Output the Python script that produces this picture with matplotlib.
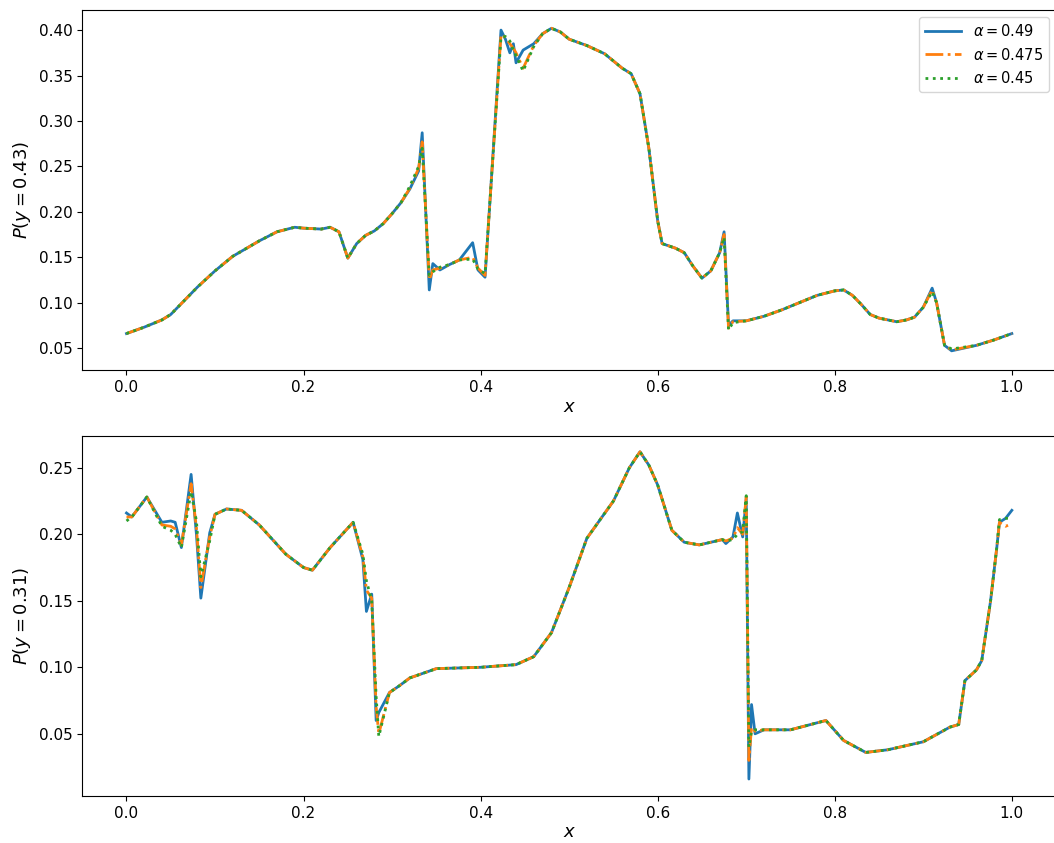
import numpy as np
import matplotlib.pyplot as plt

plt.switch_backend('agg')

# pressure cut at y = 0.43
x_top = [0.0, 0.02, 0.04, 0.05, 0.06, 0.08, 0.10, 0.12, 0.15, 0.17, 0.19, 0.20, 0.22, 0.23,
         0.24, 0.25, 0.26, 0.27, 0.28, 0.29, 0.30, 0.31, 0.32, 0.33, 0.334, 0.342, 0.346,
         0.354, 0.365, 0.376, 0.391, 0.397, 0.405, 0.423, 0.428, 0.433, 0.437, 0.44, 0.448,
         0.46, 0.47, 0.48, 0.49, 0.50, 0.52, 0.54, 0.56, 0.57, 0.58, 0.59, 0.60, 0.605,
         0.62, 0.63, 0.64, 0.65, 0.66, 0.67, 0.675, 0.68, 0.685, 0.70, 0.72, 0.74, 0.76,
         0.78, 0.80, 0.81, 0.82, 0.83, 0.84, 0.85, 0.87, 0.881, 0.89, 0.90, 0.91, 0.915,
         0.924, 0.932, 0.96, 0.98, 1.0]
p_top_049 = [0.066, 0.073, 0.081, 0.087, 0.097, 0.117, 0.135, 0.151, 0.168, 0.178, 0.183,
             0.182, 0.181, 0.183, 0.178, 0.149, 0.165, 0.174, 0.179, 0.187, 0.198, 0.210,
             0.225, 0.245, 0.287, 0.114, 0.143, 0.136, 0.142, 0.147, 0.166, 0.136, 0.128,
             0.400, 0.390, 0.375, 0.385, 0.364, 0.378, 0.385, 0.396, 0.402, 0.398, 0.390,
             0.383, 0.374, 0.358, 0.352, 0.330, 0.270, 0.190, 0.165, 0.160, 0.155, 0.140,
             0.127, 0.135, 0.155, 0.178, 0.075, 0.080, 0.080, 0.085, 0.092, 0.100, 0.108,
             0.113, 0.114, 0.108, 0.098, 0.087, 0.083, 0.079, 0.081, 0.084, 0.095, 0.116,
             0.100, 0.053, 0.047, 0.053, 0.059, 0.066]
p_top_0475 = [0.066, 0.073, 0.081, 0.087, 0.097, 0.117, 0.135, 0.151, 0.168, 0.178, 0.183,
              0.182, 0.181, 0.183, 0.178, 0.149, 0.165, 0.174, 0.179, 0.187, 0.198, 0.210,
              0.226, 0.248, 0.277, 0.125, 0.136, 0.138, 0.142, 0.147, 0.150, 0.138, 0.130,
              0.395, 0.392, 0.385, 0.380, 0.375, 0.358, 0.383, 0.396, 0.402, 0.398, 0.390,
              0.383, 0.374, 0.358, 0.352, 0.330, 0.270, 0.190, 0.165, 0.160, 0.155, 0.140,
              0.127, 0.135, 0.155, 0.175, 0.072, 0.079, 0.080, 0.085, 0.092, 0.100, 0.108,
              0.113, 0.114, 0.108, 0.098, 0.087, 0.083, 0.079, 0.081, 0.084, 0.095, 0.114,
              0.100, 0.053, 0.048, 0.053, 0.059, 0.066]
p_top_045 = [0.066, 0.073, 0.081, 0.087, 0.097, 0.117, 0.135, 0.151, 0.168, 0.178, 0.183,
             0.182, 0.181, 0.183, 0.178, 0.149, 0.165, 0.174, 0.179, 0.187, 0.198, 0.210,
             0.228, 0.250, 0.270, 0.130, 0.134, 0.139, 0.142, 0.147, 0.148, 0.137, 0.132,
             0.392, 0.393, 0.388, 0.378, 0.372, 0.355, 0.382, 0.396, 0.402, 0.398, 0.390,
             0.383, 0.374, 0.358, 0.352, 0.330, 0.270, 0.190, 0.165, 0.160, 0.155, 0.140,
             0.127, 0.135, 0.155, 0.172, 0.070, 0.078, 0.080, 0.085, 0.092, 0.100, 0.108,
             0.113, 0.114, 0.108, 0.098, 0.087, 0.083, 0.079, 0.081, 0.084, 0.095, 0.112,
             0.100, 0.053, 0.049, 0.053, 0.059, 0.066]

# pressure cut at y = 0.31
x_bot = [0.0, 0.006, 0.023, 0.04, 0.05, 0.055, 0.062, 0.073, 0.079, 0.084, 0.094, 0.10,
         0.113, 0.13, 0.15, 0.18, 0.20, 0.21, 0.23, 0.256, 0.267, 0.271, 0.277, 0.282,
         0.285, 0.297, 0.308, 0.32, 0.35, 0.40, 0.44, 0.46, 0.48, 0.50, 0.52, 0.55, 0.568,
         0.58, 0.59, 0.60, 0.616, 0.63, 0.647, 0.673, 0.677, 0.685, 0.69, 0.696, 0.700,
         0.703, 0.706, 0.71, 0.72, 0.75, 0.79, 0.81, 0.835, 0.86, 0.90, 0.93, 0.94, 0.947,
         0.96, 0.966, 0.976, 0.983, 0.986, 0.993, 1.0]
p_bot_049 = [0.216, 0.213, 0.228, 0.209, 0.210, 0.209, 0.190, 0.245, 0.200, 0.152, 0.201,
             0.215, 0.219, 0.218, 0.207, 0.185, 0.175, 0.173, 0.190, 0.209, 0.181, 0.142,
             0.155, 0.060, 0.066, 0.081, 0.086, 0.092, 0.099, 0.100, 0.102, 0.108, 0.126,
             0.160, 0.197, 0.225, 0.250, 0.262, 0.252, 0.237, 0.203, 0.194, 0.192, 0.196,
             0.193, 0.198, 0.216, 0.198, 0.227, 0.016, 0.072, 0.050, 0.053, 0.053, 0.060,
             0.045, 0.036, 0.038, 0.044, 0.055, 0.057, 0.090, 0.098, 0.105, 0.150, 0.190,
             0.209, 0.212, 0.218]
p_bot_0475 = [0.213, 0.213, 0.228, 0.207, 0.206, 0.204, 0.192, 0.238, 0.205, 0.160, 0.198,
              0.215, 0.219, 0.218, 0.207, 0.185, 0.175, 0.173, 0.190, 0.209, 0.183, 0.158,
              0.152, 0.070, 0.050, 0.081, 0.086, 0.092, 0.099, 0.100, 0.102, 0.108, 0.126,
              0.160, 0.197, 0.225, 0.250, 0.262, 0.252, 0.237, 0.203, 0.194, 0.192, 0.196,
              0.195, 0.197, 0.205, 0.200, 0.228, 0.030, 0.055, 0.052, 0.053, 0.053, 0.060,
              0.045, 0.036, 0.038, 0.044, 0.055, 0.057, 0.090, 0.098, 0.105, 0.150, 0.190,
              0.209, 0.206, 0.208]
p_bot_045 = [0.210, 0.213, 0.228, 0.206, 0.203, 0.200, 0.190, 0.232, 0.210, 0.168, 0.195,
             0.215, 0.219, 0.218, 0.207, 0.185, 0.175, 0.173, 0.190, 0.209, 0.185, 0.165,
             0.150, 0.078, 0.048, 0.081, 0.086, 0.092, 0.099, 0.100, 0.102, 0.108, 0.126,
             0.160, 0.197, 0.225, 0.250, 0.262, 0.252, 0.237, 0.203, 0.194, 0.192, 0.196,
             0.195, 0.196, 0.200, 0.202, 0.229, 0.040, 0.052, 0.053, 0.053, 0.053, 0.060,
             0.045, 0.036, 0.038, 0.044, 0.055, 0.057, 0.090, 0.098, 0.105, 0.150, 0.190,
             0.211, 0.212, 0.212]

alphas = ['0.49', '0.475', '0.45']
styles = ['-', '-.', ':']
colors = ['#1f77b4', '#ff7f0e', '#2ca02c']


def draw(ax, x, series, ylabel):
    for y, a, ls, c in zip(series, alphas, styles, colors):
        ax.plot(x, y, ls, color=c, linewidth=2, label=rf'$\alpha = {a}$')
    ax.set_xlim(-0.05, 1.05)
    ax.set_xticks([0.0, 0.2, 0.4, 0.6, 0.8, 1.0])
    ax.tick_params(labelsize=11)
    ax.set_ylabel(ylabel, fontsize=13)
    ax.set_xlabel('$x$', fontsize=13, labelpad=2)


fig = plt.figure(figsize=(10.54, 8.43), dpi=100)
ax1 = fig.add_axes([0.078, 0.561, 0.924, 0.427])
ax2 = fig.add_axes([0.078, 0.056, 0.924, 0.427])

draw(ax1, x_top, [p_top_049, p_top_0475, p_top_045], '$P(y = 0.43)$')
ax1.set_ylim(0.0258, 0.422)
ax1.set_yticks([0.05, 0.10, 0.15, 0.20, 0.25, 0.30, 0.35, 0.40])
ax1.legend(loc='upper right', fontsize=10.5, handlelength=2.5)

draw(ax2, x_bot, [p_bot_049, p_bot_0475, p_bot_045], '$P(y = 0.31)$')
ax2.set_ylim(0.0034, 0.274)
ax2.set_yticks([0.05, 0.10, 0.15, 0.20, 0.25])

plt.savefig('out.png', dpi=100)
plt.close()
